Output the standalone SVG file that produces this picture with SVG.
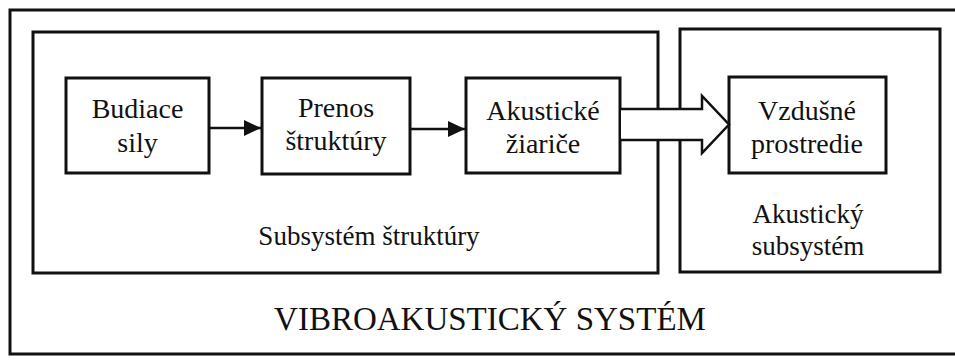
<svg xmlns="http://www.w3.org/2000/svg" width="955" height="361" viewBox="0 0 955 361">
  <style>
    .frame { fill: none; stroke: #111; stroke-width: 3; }
    .box { fill: #fff; stroke: #111; stroke-width: 3; }
    .lbl { font-family: "Liberation Serif", "Times New Roman", serif; fill: #111; text-anchor: middle; }
    .node { font-size: 28px; }
    .sub { font-size: 27px; }
    .title { font-size: 33px; }
    .link { fill: none; stroke: #111; stroke-width: 2.5; }
    .flow { fill: #fff; stroke: #111; stroke-width: 2.5; stroke-linejoin: miter; }
  </style>
  <defs>
    <marker id="head" viewBox="0 0 17 16" refX="17" refY="8" markerWidth="17" markerHeight="16" markerUnits="userSpaceOnUse" orient="auto">
      <path d="M0,0 L17,8 L0,16 z" fill="#111"/>
    </marker>
  </defs>

  <rect width="955" height="361" fill="#fff"/>

  <!-- whole vibroacoustic system -->
  <g id="system">
    <path class="frame" d="M960,10 H10 V354 H960"/>
    <text class="lbl title" x="490" y="330">VIBROAKUSTICKÝ SYSTÉM</text>
  </g>

  <!-- structural subsystem -->
  <g id="structure-subsystem">
    <rect class="frame" x="33" y="32" width="625" height="241"/>
    <text class="lbl sub" x="369" y="245">Subsystém štruktúry</text>
  </g>

  <!-- acoustic subsystem -->
  <g id="acoustic-subsystem">
    <rect class="frame" x="680" y="29" width="260" height="243"/>
    <text class="lbl sub" x="808" y="223">Akustický</text>
    <text class="lbl sub" x="808" y="255">subsystém</text>
  </g>

  <g id="excitation">
    <rect class="box" x="66" y="78" width="143" height="95"/>
    <text class="lbl node" x="137.5" y="118">Budiace</text>
    <text class="lbl node" x="137.5" y="152">sily</text>
  </g>

  <g id="transfer">
    <rect class="box" x="262" y="78" width="148" height="96"/>
    <text class="lbl node" x="336" y="117">Prenos</text>
    <text class="lbl node" x="336" y="150">štruktúry</text>
  </g>

  <g id="radiators">
    <rect class="box" x="466" y="78" width="154" height="95"/>
    <text class="lbl node" x="543" y="120">Akustické</text>
    <text class="lbl node" x="543" y="153">žiariče</text>
  </g>

  <g id="air">
    <rect class="box" x="729" y="77" width="157" height="96"/>
    <text class="lbl node" x="807" y="120">Vzdušné</text>
    <text class="lbl node" x="807" y="153">prostredie</text>
  </g>

  <!-- connectors -->
  <g id="connectors">
    <path class="link" d="M209,128 H261" marker-end="url(#head)"/>
    <path class="link" d="M410,129 H465" marker-end="url(#head)"/>
    <path class="flow" d="M621,109 H702 V96 L729,124.5 L702,153 V140 H621"/>
  </g>
</svg>
